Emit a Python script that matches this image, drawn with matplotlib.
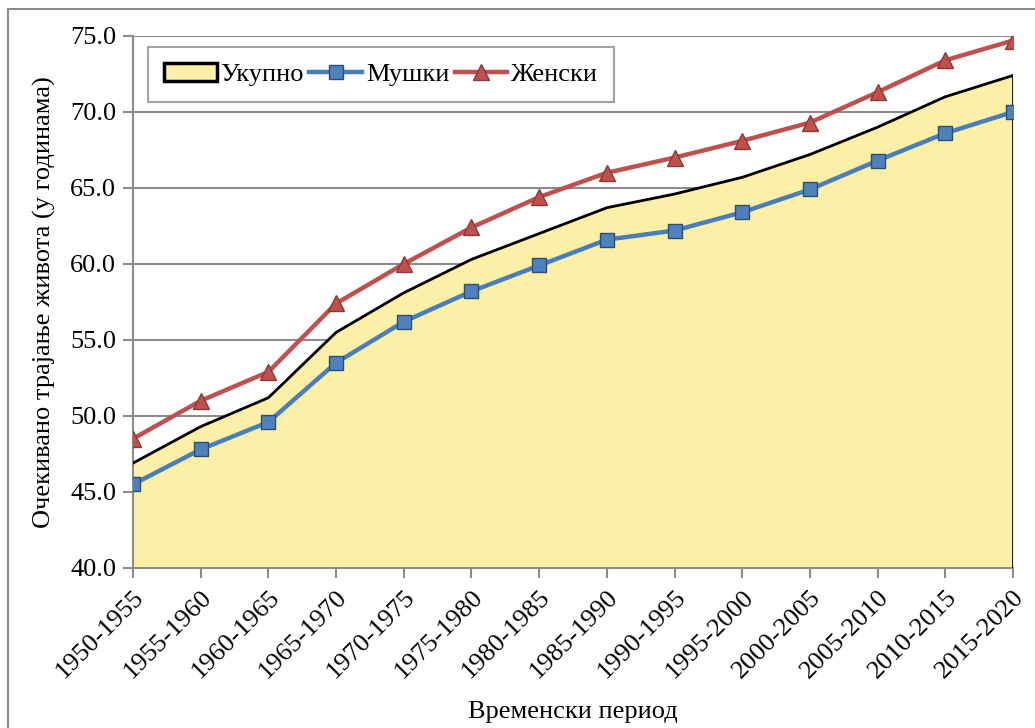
import numpy as np
import matplotlib.pyplot as plt
from matplotlib.patches import Rectangle

periods = ["1950-1955", "1955-1960", "1960-1965", "1965-1970", "1970-1975",
           "1975-1980", "1980-1985", "1985-1990", "1990-1995", "1995-2000",
           "2000-2005", "2005-2010", "2010-2015", "2015-2020"]
total = [46.9, 49.3, 51.2, 55.5, 58.1, 60.3, 62.0, 63.7, 64.6, 65.7, 67.2, 69.0, 71.0, 72.4]
male = [45.5, 47.8, 49.6, 53.5, 56.2, 58.2, 59.9, 61.6, 62.2, 63.4, 64.9, 66.8, 68.6, 70.0]
female = [48.5, 51.0, 52.9, 57.4, 60.0, 62.4, 64.4, 66.0, 67.0, 68.1, 69.3, 71.3, 73.4, 74.7]

plt.rcParams['font.family'] = ['Liberation Serif', 'DejaVu Serif']
plt.rcParams['font.size'] = 19

fig = plt.figure(figsize=(10.35, 7.28), dpi=100)
ax = fig.add_axes([0.1285, 0.2198, 0.8502, 0.7308])

x = np.arange(len(periods))
grey = '#8c8c8c'

# area for the total, outlined on top and at the right end
ax.fill_between(x, 40, total, color='#fcefa8', lw=0, zorder=2, label='Укупно')
ax.plot(x, total, color='black', lw=2, zorder=3)
ax.plot([x[-1], x[-1]], [40, total[-1]], color='black', lw=2, zorder=3)

ax.plot(x, male, color='#4a7ebb', lw=3.2, marker='s', ms=10,
        mfc='#4f81bd', mec='#2c4d75', mew=1, zorder=4, label='Мушки')
ax.plot(x, female, color='#c0504d', lw=3.2, marker='^', ms=11,
        mfc='#c0504d', mec='#8c3836', mew=1, zorder=4, label='Женски')

ax.set_xlim(0, len(periods) - 1)
ax.set_ylim(40, 75)
ax.set_yticks(np.arange(40, 76, 5))
ax.set_yticklabels([f"{v:.1f}" for v in np.arange(40, 76, 5)])
ax.set_xticks(x)
ax.set_xticklabels(periods, rotation=45, ha='right', rotation_mode='anchor')

ax.grid(axis='y', color=grey, lw=1.5, zorder=1)
for s in ['top', 'right']:
    ax.spines[s].set_visible(False)
for s in ['left', 'bottom']:
    ax.spines[s].set_color(grey)
    ax.spines[s].set_linewidth(1.5)
ax.tick_params(axis='both', color=grey, width=1.5, length=7)
ax.tick_params(axis='y', pad=5)
ax.tick_params(axis='x', pad=6)

ax.set_ylabel('Очекивано трајање живота (у годинама)', labelpad=10)
ax.set_xlabel('Временски период', labelpad=13)

leg = ax.legend(loc='upper left', ncol=3, bbox_to_anchor=(0.017, 0.979),
                borderaxespad=0, frameon=True, fancybox=False,
                handlelength=2.0, handletextpad=0.15, columnspacing=0.2,
                borderpad=0.6)
leg.get_frame().set_edgecolor(grey)
leg.get_frame().set_linewidth(1.5)
fill_handle = leg.legend_handles[0]
fill_handle.set_edgecolor('black')
fill_handle.set_linewidth(2.5)

# outer frame around the chart
fig.patches.append(Rectangle((8 / 1035, -0.05), 1.2, 1 - 9 / 728 + 0.05,
                             transform=fig.transFigure, fill=False,
                             edgecolor=grey, lw=1.5))

fig.savefig('out.png', dpi=100)
